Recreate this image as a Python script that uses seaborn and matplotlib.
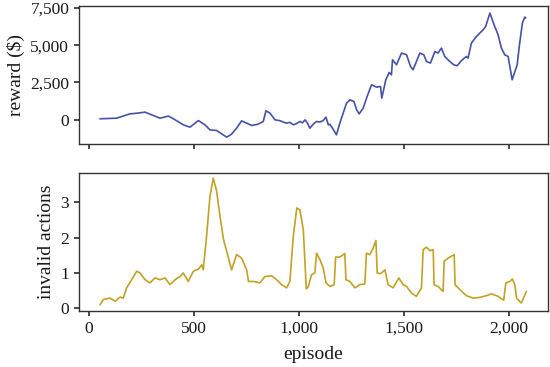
import numpy as np
import pandas as pd
import seaborn as sns
import matplotlib.pyplot as plt
from matplotlib.ticker import StrMethodFormatter

# values
reward_episode = [52, 132, 195, 233, 267, 298, 338, 378, 402, 449, 481, 521, 552, 576, 608, 632,
                  656, 679, 703, 727, 751, 775, 806, 830, 843, 862, 886, 910, 925, 941, 957, 973,
                  989, 1005, 1017, 1029, 1040, 1052, 1068, 1084, 1100, 1116, 1129, 1140, 1148, 1160,
                  1179, 1195, 1211, 1227, 1243, 1262, 1275, 1287,
                  1306, 1325, 1346, 1370, 1389, 1395, 1414, 1430, 1441, 1446, 1465, 1489, 1513, 1532,
                  1544, 1560, 1576, 1595, 1608, 1627, 1648, 1663, 1679, 1695, 1719, 1738, 1754, 1775,
                  1798, 1806, 1822, 1846, 1862, 1878, 1890, 1910, 1933, 1949, 1965, 1981, 1997, 2016,
                  2040, 2052, 2065, 2076, 2081]
reward = [70, 110, 400, 450, 515, 335, 110, 250, 70, -335, -490, -50, -335, -670, -715, -940,
          -1160, -960, -560, -70, -220, -380, -290, -110, 600, 450, 0, -60, -150, -220, -170, -335,
          -250, -110, -200, 0, -200, -560, -300, -110, -150, -45, 180, -335, -300, -560,
          -1005, -220, 450, 1120, 1340, 1230, 670, 400,
          780, 1560, 2345, 2190, 2230, 1450, 2680, 3170, 3015, 4020, 3685, 4470, 4355, 3570,
          3350, 3905, 4470, 4355, 3905, 3800, 4575, 4470, 4800, 4240, 3905, 3685, 3620, 3975,
          4240, 4130, 5140, 5580, 5810, 6030, 6250, 7150, 6250, 5700, 4800, 4355, 4240, 2680,
          3685, 5140, 6480, 6880, 6815]

invalid_episode = [52, 68, 100, 124, 148, 163, 179, 203, 227, 243, 267, 290, 314, 338, 362, 386,
                   410, 433, 449, 473, 497, 521, 537, 544, 560, 576, 592, 608, 624, 641, 656, 679,
                   703, 727, 751, 760, 784, 814, 838, 870, 894, 918, 941, 957, 973, 990, 1005, 1013,
                   1021, 1028, 1035, 1044, 1060, 1076, 1084, 1100, 1116, 1129, 1148, 1168, 1175, 1195,
                   1219, 1224, 1243, 1267, 1290, 1314, 1322, 1338, 1354, 1367, 1373, 1389, 1410, 1425,
                   1449, 1476, 1497, 1513, 1537, 1560, 1584, 1592, 1608, 1624, 1640, 1644, 1663, 1687,
                   1692, 1711, 1740, 1744, 1767, 1798, 1830, 1862, 1894, 1918, 1949, 1976, 1986, 2005,
                   2017, 2029, 2037, 2060, 2084]
invalid_actions = [0.10, 0.25, 0.29, 0.20, 0.32, 0.29, 0.58, 0.81, 1.05, 1.00, 0.81, 0.72, 0.86, 0.81, 0.86, 0.67,
                   0.81, 0.90, 1.00, 0.76, 1.05, 1.11, 1.23, 1.09, 2.03, 3.16, 3.68, 3.31, 2.60, 1.94, 1.61, 1.09,
                   1.52, 1.42, 1.09, 0.76, 0.76, 0.72, 0.90, 0.92, 0.81, 0.67, 0.58, 0.76, 2.03, 2.84, 2.78, 2.50,
                   2.22, 1.40, 0.55, 0.60, 0.95, 1.00, 1.56, 1.38, 1.14, 0.72, 0.62, 0.67, 1.45, 1.45,
                   1.55, 0.81, 0.76, 0.58, 0.67, 0.69, 1.56, 1.52, 1.71, 1.92, 1.00, 0.98, 1.09, 0.67,
                   0.58, 0.86, 0.67, 0.62, 0.43, 0.34, 0.58, 1.66, 1.73, 1.63, 1.66, 0.67, 0.62, 0.48,
                   1.33, 1.42, 1.52, 0.67, 0.53, 0.36, 0.29, 0.31, 0.36, 0.41, 0.34, 0.23, 0.72, 0.76,
                   0.83, 0.67, 0.29, 0.15, 0.48]

REWARD_COLOR = "#4552a8"
INVALID_COLOR = "#c2a226"
EDGE = "#333333"


def setup_style():
    sns.set_theme(style="ticks")
    plt.rcParams["font.family"] = ["Liberation Serif", "DejaVu Serif"]
    plt.rcParams["axes.edgecolor"] = EDGE
    plt.rcParams["axes.linewidth"] = 1.0
    plt.rcParams["xtick.color"] = EDGE
    plt.rcParams["ytick.color"] = EDGE
    plt.rcParams["xtick.labelcolor"] = "#1a1a1a"
    plt.rcParams["ytick.labelcolor"] = "#1a1a1a"
    plt.rcParams["xtick.labelsize"] = 12.5
    plt.rcParams["ytick.labelsize"] = 12.5
    plt.rcParams["xtick.major.size"] = 3.5
    plt.rcParams["ytick.major.size"] = 3.5
    plt.rcParams["axes.labelsize"] = 14
    plt.rcParams["axes.labelcolor"] = "#1a1a1a"


def main():
    setup_style()
    top = pd.DataFrame({"episode": reward_episode, "reward": reward})
    bottom = pd.DataFrame({"episode": invalid_episode, "invalid": invalid_actions})

    fig = plt.figure(figsize=(5.5, 3.67), dpi=100)
    ax1 = fig.add_axes([0.1436, 0.608, 0.8524, 0.376])
    ax2 = fig.add_axes([0.1436, 0.153, 0.8524, 0.376], sharex=ax1)

    sns.lineplot(data=top, x="episode", y="reward", ax=ax1, color=REWARD_COLOR, linewidth=1.2)
    sns.lineplot(data=bottom, x="episode", y="invalid", ax=ax2, color=INVALID_COLOR, linewidth=1.2)

    ax1.set_yticks([0, 2500, 5000, 7500])
    ax1.yaxis.set_major_formatter(StrMethodFormatter("{x:,.0f}"))
    ax1.set_ylim(-1610, 7630)
    ax1.set_ylabel(r"reward (\$)")
    ax1.set_xlabel("")
    ax1.tick_params(axis="x", labelbottom=False)

    ax2.set_yticks([0, 1, 2, 3])
    ax2.set_ylim(-0.07, 3.83)
    ax2.set_xticks([0, 500, 1000, 1500, 2000])
    ax2.xaxis.set_major_formatter(StrMethodFormatter("{x:,.0f}"))
    ax2.set_xlim(-48, 2186)
    ax2.set_ylabel("invalid actions")
    ax2.set_xlabel("episode", labelpad=7)

    fig.savefig("out.png", dpi=100)
    plt.close(fig)


if __name__ == "__main__":
    main()
